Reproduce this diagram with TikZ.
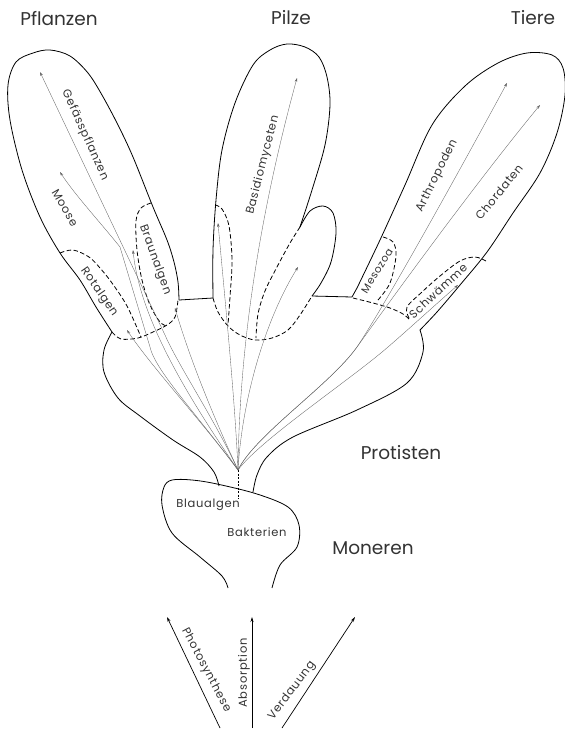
\documentclass[tikz,border=0pt]{standalone}
\usepackage{fontspec}
\setmainfont{Poppins}
\newfontfamily\lblfont{Poppins}[LetterSpace=6]
\usetikzlibrary{arrows.meta}
\begin{document}
\begin{tikzpicture}[x=1pt,y=-1pt,
  outline/.style={line width=0.8pt, line join=round},
  dsh/.style={line width=0.8pt, dash pattern=on 4.5pt off 2.5pt},
  arr/.style={line width=0.35pt, draw=black!60, -{Stealth[length=4pt,width=2.6pt]}},
  barr/.style={line width=0.7pt, -{Stealth[length=5pt,width=3pt]}},
  lbl/.style={font=\lblfont\fontsize{11.5}{13}\selectfont, inner sep=0pt, text=black!80},
  sml/.style={font=\lblfont\fontsize{11.5}{13}\selectfont, inner sep=0pt, text=black!80},
  big/.style={font=\fontsize{18.5}{20}\selectfont, inner sep=0pt, text=black!80},
]
\useasboundingbox (0,0) rectangle (565,729);

% ---------- solid outlines ----------
\draw[outline] plot[smooth,tension=0.55] coordinates {(112,332) (96,307) (80,280) (60,253) (40,217) (22,170) (10,120) (8,85) (16,62) (33,53) (50,50) (70,56) (88,73) (102,95) (118,125) (133,157) (153,207) (167,240) (174,262) (178,282) (179,300)};
\draw[outline] (179,300) -- (213,298);
\draw[outline] plot[smooth,tension=0.55] coordinates {(213,298) (213,250) (216,200) (222,150) (235,103) (253,65) (270,50) (287,44) (305,47) (319,57) (327,77) (330,105) (325,145) (312,190) (300,227)};
\draw[outline] plot[smooth,tension=0.55] coordinates {(300,227) (310,211) (323,206) (333,213) (336,233) (331,262) (321,283) (312,296)};
\draw[outline] (312,296) -- (352,297) -- (357,288);
\draw[outline] plot[smooth,tension=0.55] coordinates {(357,288) (380,240) (405,185) (432,125) (465,86) (498,63) (527,53) (552,55) (563,68) (565,95) (557,133) (540,173) (513,213) (487,252) (460,285) (437,312) (420,330)};
\draw[outline] plot[smooth,tension=0.55] coordinates {(420,330) (423,352) (407,383) (357,410) (293,437) (267,457) (257,475) (253,492)};
\draw[outline] plot[smooth,tension=0.55] coordinates {(112,332) (104,350) (104,372) (118,398) (140,416) (173,440) (200,457) (214,472) (219,486)};
\draw[outline] plot[smooth,tension=0.55] coordinates {(228,588) (222,576) (200,557) (172,533) (162,505) (164,487) (172,480) (192,480) (217,484) (257,494) (288,507) (299,525) (297,547) (280,565) (272,588)};

% ---------- dashed boundaries ----------
\draw[dsh] plot[smooth,tension=0.55] coordinates {(60,253) (73,250) (89,257) (100,268) (112,283) (127,306) (141,337)};
\draw[dsh] plot[smooth,tension=0.55] coordinates {(112,332) (121,339) (138,338) (153,332) (167,325) (175,317) (178,300)};
\draw[dsh] plot[smooth,tension=0.55] coordinates {(151,203) (141,208) (136,221) (137,250) (142,280) (150,305) (160,322) (167,326)};
\draw[dsh] plot[smooth,tension=0.55] coordinates {(215,205) (222,209) (229,226) (232,260) (230,297) (228,325)};
\draw[dsh] plot[smooth,tension=0.55] coordinates {(213,298) (218,312) (228,326) (240,335) (255,340) (272,338) (288,330) (300,315) (312,296)};
\draw[dsh] plot[smooth,tension=0.55] coordinates {(300,227) (290,243) (277,267) (265,291) (258,314) (256,338)};
\draw[dsh] plot[smooth,tension=0.55] coordinates {(353,298) (373,303) (390,308) (403,314) (410,320)};
\draw[dsh] plot[smooth,tension=0.55] coordinates {(383,237) (393,242) (396,256) (390,283) (378,300)};
\draw[dsh] plot[smooth,tension=0.55] coordinates {(409,318) (407,307) (422,292) (440,276) (460,261) (475,257) (486,261)};

% ---------- arrow end points ----------
\coordinate (O) at (238,470);
\coordinate (ob) at (238,499);
\coordinate (tRot) at (127,330);
\coordinate (tMoose) at (60,172);
\coordinate (tBr1) at (133,250);
\coordinate (tBr2) at (175,308);
\coordinate (tGef) at (40,72);
\coordinate (tP1) at (218,223);
\coordinate (tBas) at (297,78);
\coordinate (tP3) at (298,267);
\coordinate (tArt) at (507,83);
\coordinate (tCho) at (540,105);
\coordinate (tSch) at (458,285);

\draw[line width=0.5pt, dash pattern=on 2pt off 1.5pt] (O) -- (ob);
\draw[arr] (O) .. controls (205,425) and (150,365) .. (tRot);
\draw[arr] (O) .. controls (195,412) and (155,370) .. (150,347) -- (120,247) .. controls (100,222) and (75,195) .. (tMoose);
\draw[arr] (O) .. controls (190,400) and (140,320) .. (tBr1);
\draw[arr] (O) .. controls (215,420) and (190,360) .. (tBr2);
\draw[arr] (O) .. controls (215,420) and (178,365) .. (165,335) -- (tGef);
\draw[arr] (O) .. controls (235,400) and (225,300) .. (tP1);
\draw[arr] (O) .. controls (239,380) and (250,250) .. (tBas);
\draw[arr] (O) .. controls (242,400) and (265,320) .. (tP3);
\draw[arr] (O) .. controls (255,435) and (330,385) .. (357,347) .. controls (385,305) and (460,170) .. (tArt);
\draw[arr] (O) .. controls (255,435) and (330,385) .. (357,347) .. controls (380,315) and (470,190) .. (tCho);
\draw[arr] (O) .. controls (260,440) and (350,380) .. (388,347) .. controls (410,328) and (435,305) .. (tSch);

% ---------- bottom arrows ----------
\coordinate (ps) at (220,728);
\coordinate (pe) at (167,617);
\coordinate (as) at (252,728);
\coordinate (ae) at (252,617);
\coordinate (vs) at (282,728);
\coordinate (ve) at (355,617);
\draw[barr] (ps) -- (pe);
\draw[barr] (as) -- (ae);
\draw[barr] (vs) -- (ve);

% ---------- labels ----------
\node[big] (nPfl) at (59,19) {Pflanzen};
\node[big] (nPil) at (291,18) {Pilze};
\node[big] (nTie) at (533,18) {Tiere};
\node[big] (nPro) at (401,453) {Protisten};
\node[big] (nMon) at (373,548) {Moneren};
\node[sml] (nBla) at (208,505) {Blaualgen};
\node[sml] (nBak) at (257,532) {Bakterien};
\node[lbl, rotate=-65.7] (nGef) at (85,135) {Gefässpflanzen};
\node[lbl, rotate=-60] (nMoo) at (65,208) {Moose};
\node[lbl, rotate=-70] (nBra) at (155,260) {Braunalgen};
\node[lbl, rotate=-55] (nRot) at (99,292) {Rotalgen};
\node[lbl, rotate=75.5] (nBas) at (263,165) {Basidiomyceten};
\node[lbl, rotate=63.7] (nArt) at (437,176) {Arthropoden};
\node[lbl, rotate=51] (nCho) at (499,192) {Chordaten};
\node[lbl, rotate=58, font=\lblfont\fontsize{10.5}{12}\selectfont] (nMes) at (377,271) {Mesozoa};
\node[lbl, rotate=42.5] (nSch) at (438,291) {Schwämme};
\node[sml, rotate=-62] (nPho) at (206,670) {Photosynthese};
\node[sml, rotate=90] (nAbs) at (244,673) {Absorption};
\node[sml, rotate=53] (nVer) at (292,691) {Verdauung};
\end{tikzpicture}
\end{document}
